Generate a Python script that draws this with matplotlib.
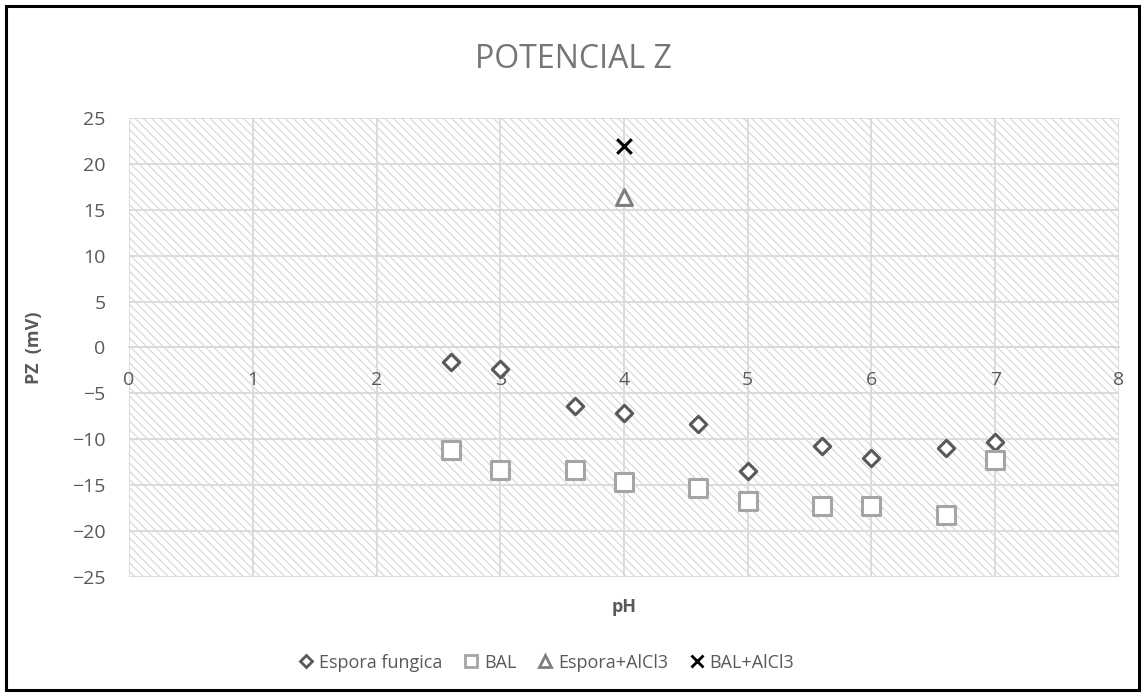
import matplotlib.pyplot as plt
from matplotlib.patches import Rectangle
from matplotlib.lines import Line2D

plt.rcParams['font.family'] = ['Open Sans', 'DejaVu Sans']
plt.rcParams['hatch.linewidth'] = 0.8

# Data
ph_espora = [2.6, 3.0, 3.6, 4.0, 4.6, 5.0, 5.6, 6.0, 6.6, 7.0]
pz_espora = [-1.6, -2.3, -6.4, -7.1, -8.3, -13.5, -10.7, -12.0, -10.9, -10.3]

ph_bal = [2.6, 3.0, 3.6, 4.0, 4.6, 5.0, 5.6, 6.0, 6.6, 7.0]
pz_bal = [-11.2, -13.3, -13.3, -14.7, -15.3, -16.7, -17.3, -17.3, -18.3, -12.3]

ph_espora_al = [4.0]
pz_espora_al = [16.4]

ph_bal_al = [4.0]
pz_bal_al = [22.0]

x_ticks = [0, 1, 2, 3, 4, 5, 6, 7, 8]
y_ticks = [-25, -20, -15, -10, -5, 0, 5, 10, 15, 20, 25]

txt = '#595959'

fig = plt.figure(figsize=(11.46, 6.96), dpi=100)
ax = fig.add_axes([0.1126, 0.171, 0.8638, 0.6595])

# hatched plot background
bg = Rectangle((0, 0), 1, 1, transform=ax.transAxes, facecolor='white',
               edgecolor='#d6d6d6', hatch='\\\\\\\\', linewidth=0, zorder=0)
ax.add_patch(bg)

ax.scatter(ph_espora, pz_espora, marker='D', s=70, facecolors='white',
           edgecolors='#595959', linewidths=2.2, zorder=3)
ax.scatter(ph_bal, pz_bal, marker='s', s=150, facecolors='white',
           edgecolors='#a5a5a5', linewidths=2.2, zorder=3)
ax.scatter(ph_espora_al, pz_espora_al, marker='^', s=130, facecolors='white',
           edgecolors='#7f7f7f', linewidths=2.2, zorder=3)
ax.scatter(ph_bal_al, pz_bal_al, marker='x', s=110, color='black',
           linewidths=2.2, zorder=3)

ax.set_xlim(0, 8)
ax.set_ylim(-25, 25)
ax.set_xticks(x_ticks)
ax.set_yticks(y_ticks)
ax.set_xticks([i * 0.2 for i in range(41)], minor=True)
ax.grid(True, color='#d9d9d9', linewidth=1.3, zorder=1)
ax.set_axisbelow(True)

for s in ['top', 'right', 'left']:
    ax.spines[s].set_visible(False)
ax.spines['bottom'].set_position(('data', 0))
ax.spines['bottom'].set_color('#d9d9d9')
ax.spines['bottom'].set_linewidth(1.3)

ax.tick_params(axis='x', which='major', length=0, pad=17, labelsize=14, labelcolor=txt)
ax.tick_params(axis='x', which='minor', length=3, direction='in', color='#e2e2e2')
ax.tick_params(axis='y', length=0, pad=17, labelsize=14, labelcolor=txt)

ax.set_xlabel('pH', fontsize=13, fontweight='bold', color=txt)
ax.xaxis.set_label_coords(0.5, -0.045)
ax.set_ylabel('PZ  (mV)', fontsize=13, fontweight='bold', color=txt)
ax.yaxis.set_label_coords(-0.087, 0.5)

fig.text(0.5, 0.915, 'POTENCIAL Z', ha='center', va='center',
         fontsize=23, color='#757575')

handles = [
    Line2D([], [], marker='D', ls='none', markersize=6, markerfacecolor='white',
           markeredgecolor='#595959', markeredgewidth=2),
    Line2D([], [], marker='s', ls='none', markersize=8, markerfacecolor='white',
           markeredgecolor='#a5a5a5', markeredgewidth=2),
    Line2D([], [], marker='^', ls='none', markersize=8, markerfacecolor='white',
           markeredgecolor='#7f7f7f', markeredgewidth=2),
    Line2D([], [], marker='x', ls='none', markersize=8, color='black',
           markeredgewidth=2),
]
labels = ['Espora fungica', 'BAL', 'Espora+AlCl3', 'BAL+AlCl3']
fig.legend(handles, labels, loc='center', bbox_to_anchor=(0.477, 0.048), ncol=4,
           frameon=False, fontsize=13, labelcolor=txt, handlelength=0.8,
           handletextpad=0.3, columnspacing=1.2)

# outer frame
fig.patches.append(Rectangle((0.005, 0.008), 0.989, 0.983, transform=fig.transFigure,
                             fill=False, edgecolor='black', linewidth=2.2))

fig.savefig('out.png', dpi=100)
